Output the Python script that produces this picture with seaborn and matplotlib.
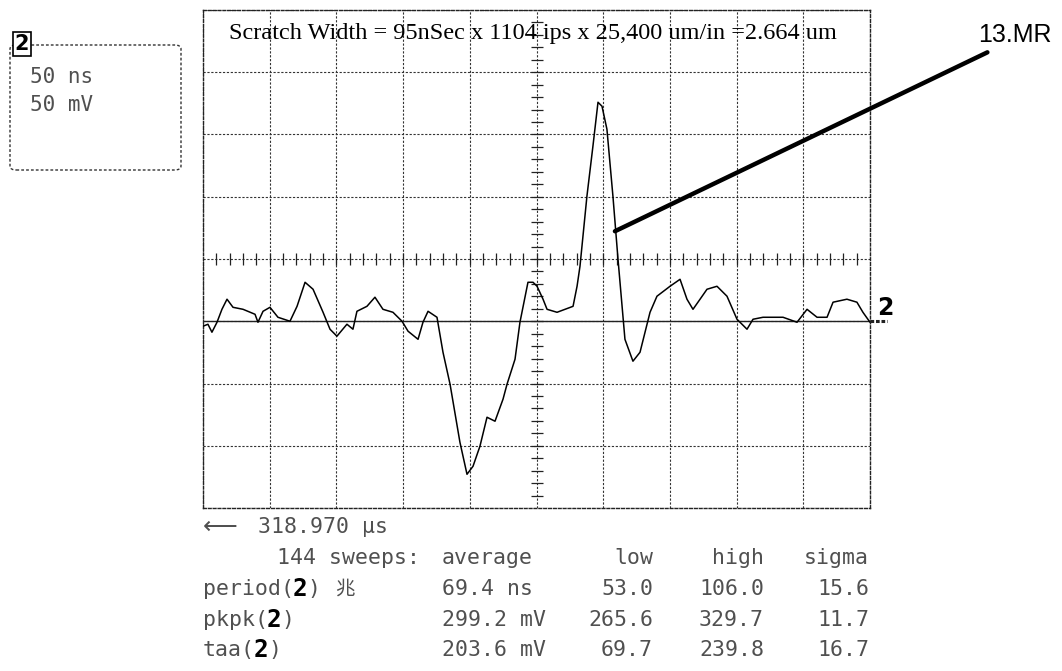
import numpy as np
import pandas as pd
import matplotlib
matplotlib.use("Agg")
import matplotlib.pyplot as plt
import seaborn as sns
from matplotlib.patches import FancyBboxPatch

# ---------------- data ----------------
time_ns = [0, 3.7, 6.7, 10.5, 14.2, 18.0, 22.5, 30.0, 39.0, 41.2, 45.0, 50.2, 56.2, 65.2,
           70.5, 76.5, 82.5, 90.0, 95.2, 100.4, 107.9, 112.4, 115.4, 122.9, 128.9, 134.9,
           142.4, 149.2, 153.7, 161.2, 164.9, 168.7, 175.4, 179.9, 185.2, 192.6, 197.9,
           202.4, 207.6, 212.9, 218.9, 224.9, 227.9, 233.9, 237.6, 243.6, 247.4, 250.4,
           254.9, 257.9, 265.4, 277.4, 280.4, 282.6, 287.8, 292.3, 296.1, 299.1, 302.8,
           307.3, 311.1, 316.3, 322.3, 327.6, 335.1, 340.3, 350.1, 357.6, 362.8, 367.3,
           372.6, 377.8, 385.3, 392.8, 400.3, 407.8, 412.3, 419.8, 434.8, 445.3, 452.8,
           460.3, 467.8, 472.3, 482.7, 490.2, 494.7, 500.0]
signal_mv = [-4.0, -2.4, -8.8, -0.8, 9.6, 17.7, 11.2, 9.6, 5.6, -0.8, 8.0, 11.2, 3.2, 0,
             12.0, 31.3, 25.7, 7.2, -6.4, -12.0, -2.4, -6.4, 8.0, 12.0, 19.3, 9.6,
             7.2, 0, -8.0, -14.5, -0.8, 8.0, 3.2, -24.9, -50.6, -97.2, -122.9,
             -116.5, -100.4, -77.1, -80.3, -62.6, -50.6, -30.5, -0.8, 31.3, 31.3, 28.1,
             17.7, 9.6, 7.2, 12.0, 28.1, 44.2, 100.4, 140.6, 175.9, 172.7, 154.2,
             100.4, 49.8, -14.5, -32.1, -24.9, 7.2, 20.1, 28.1, 33.7, 17.7, 9.6,
             17.7, 25.7, 28.1, 20.1, 1.6, -6.4, 1.6, 3.2, 3.2, -0.8, 9.6,
             3.2, 3.2, 15.3, 17.7, 15.3, 7.2, -0.8]

title_text = "Scratch Width = 95nSec x 1104 ips x 25,400 um/in =2.664 um"
label_text = "13.MR"
channel = "2"
time_div = "50 ns"
volt_div = "50 mV"
offset_text = "318.970 µs"
sweeps = 144
col_headers = ["average", "low", "high", "sigma"]
stat_names = ["period", "pkpk", "taa"]
stat_avg = ["69.4 ns", "299.2 mV", "203.6 mV"]
stat_low = ["53.0", "265.6", "69.7"]
stat_high = ["106.0", "329.7", "239.8"]
stat_sigma = ["15.6", "11.7", "16.7"]

# ---------------- figure ----------------
W, H = 1062, 671
sns.set_theme(style="white")
plt.rcParams["font.family"] = ["DejaVu Sans", "Noto Sans CJK SC"]

fig = plt.figure(figsize=(W / 100, H / 100), dpi=100)
fig.patch.set_facecolor("white")


def px(x, y):
    return x / W, 1 - y / H


ax = fig.add_axes([203 / W, 1 - 508 / H, 667 / W, 498 / H])
df = pd.DataFrame({"t": time_ns, "v": signal_mv})
sns.lineplot(data=df, x="t", y="v", ax=ax, color="black", lw=1.1,
             sort=False, estimator=None, zorder=4)
ax.set_xlim(0, 500)
ax.set_ylim(-150, 250)
ax.set_xticks(np.arange(0, 501, 50))
ax.set_yticks(np.arange(-150, 251, 50))
ax.tick_params(length=0, labelbottom=False, labelleft=False)
ax.set_xlabel("")
ax.set_ylabel("")
ax.grid(True, color="#333333", ls=(0, (2, 1.5)), lw=0.8)
for s in ax.spines.values():
    s.set_linestyle((0, (2, 1.5)))
    s.set_color("#222222")
    s.set_linewidth(1.0)
ax.axhline(0, color="#222222", lw=1.0, zorder=2)

# graticule centre ticks
mx = np.arange(10, 500, 10)
ax.plot(mx, np.full(len(mx), 50), ls="none", marker="|", ms=8, mew=0.9, color="#222222", zorder=3)
my = np.arange(-140, 250, 10)
ax.plot(np.full(len(my), 250), my, ls="none", marker="_", ms=8, mew=0.9, color="#222222", zorder=3)

# title inside the graticule
ax.text(247, 231, title_text, ha="center", va="center", family="Liberation Serif",
        fontsize=17.5, color="black", zorder=5)

# pointer to the MR peak
ax.annotate("", xy=(308.8, 72.3), xytext=(588, 216),
            arrowprops=dict(arrowstyle="-", lw=3.2, color="black", shrinkA=0, shrinkB=0),
            annotation_clip=False)
fig.text(*px(1015, 35), label_text, ha="center", va="center", family="Liberation Sans",
         fontsize=18, color="black")

# channel ground marker
ax.annotate(channel, xy=(500, 0), xytext=(5, 1), textcoords="offset points",
            ha="left", va="bottom", fontsize=17, fontweight="bold", color="black",
            annotation_clip=False)
ax.plot([500, 513], [0, 0], color="#222222", lw=2.2, ls=(0, (1.2, 0.6)), clip_on=False)

# top-left channel settings box
x0, y0 = px(10, 170)
box = FancyBboxPatch((x0, y0), 171 / W, 125 / H, boxstyle="round,pad=0,rounding_size=0.006",
                     transform=fig.transFigure, fill=False, ec="#333333", lw=1.0,
                     ls=(0, (2, 1.5)))
fig.patches.append(box)
fig.text(*px(22, 44), channel, ha="center", va="center", fontsize=15, fontweight="bold",
         color="black", bbox=dict(boxstyle="square,pad=0.08", fc="white", ec="black", lw=1.2))
mono = ["DejaVu Sans Mono", "DejaVu Sans", "Noto Sans CJK SC"]
gray = "#505050"
fig.text(*px(30, 77), time_div, ha="left", va="center", family=mono, fontsize=15, color=gray)
fig.text(*px(30, 105), volt_div, ha="left", va="center", family=mono, fontsize=15, color=gray)

# measurement readout
fs = 15.5
cw = 0.602 * fs * 100 / 72
rows_y = [527, 558, 589, 620, 650]
fig.text(*px(203, rows_y[0]), "⟵", ha="left", va="center", family="DejaVu Sans",
         fontsize=fs + 2, color=gray)
fig.text(*px(258, rows_y[0]), offset_text, ha="left", va="center", family=mono,
         fontsize=fs, color=gray)
hy = rows_y[1]
fig.text(*px(420, hy), f"{sweeps} sweeps:", ha="right", va="center", family=mono,
         fontsize=fs, color=gray)
fig.text(*px(442, hy), col_headers[0], ha="left", va="center", family=mono, fontsize=fs, color=gray)
right_edges = [653, 764, 869]
for hdr, xr in zip(col_headers[1:], right_edges):
    fig.text(*px(xr, hy), hdr, ha="right", va="center", family=mono, fontsize=fs, color=gray)

for i, name in enumerate(stat_names):
    y = rows_y[2 + i]
    pre = name + "("
    fig.text(*px(203, y), pre, ha="left", va="center", family=mono, fontsize=fs, color=gray)
    xb = 203 + len(pre) * cw
    fig.text(*px(xb - 1, y), channel, ha="left", va="center", family=mono, fontsize=fs + 2,
             fontweight="bold", color="black")
    fig.text(*px(xb + cw + 1, y), ")", ha="left", va="center", family=mono, fontsize=fs, color=gray)
    if i == 0:
        fig.text(*px(335, y), "兆", ha="left", va="center", family=["Noto Sans CJK SC"],
                 fontsize=14, color=gray)
    fig.text(*px(442, y), stat_avg[i], ha="left", va="center", family=mono, fontsize=fs, color=gray)
    for val, xr in zip([stat_low[i], stat_high[i], stat_sigma[i]], right_edges):
        fig.text(*px(xr, y), val, ha="right", va="center", family=mono, fontsize=fs, color=gray)

fig.savefig("out.png", dpi=100, facecolor="white")
